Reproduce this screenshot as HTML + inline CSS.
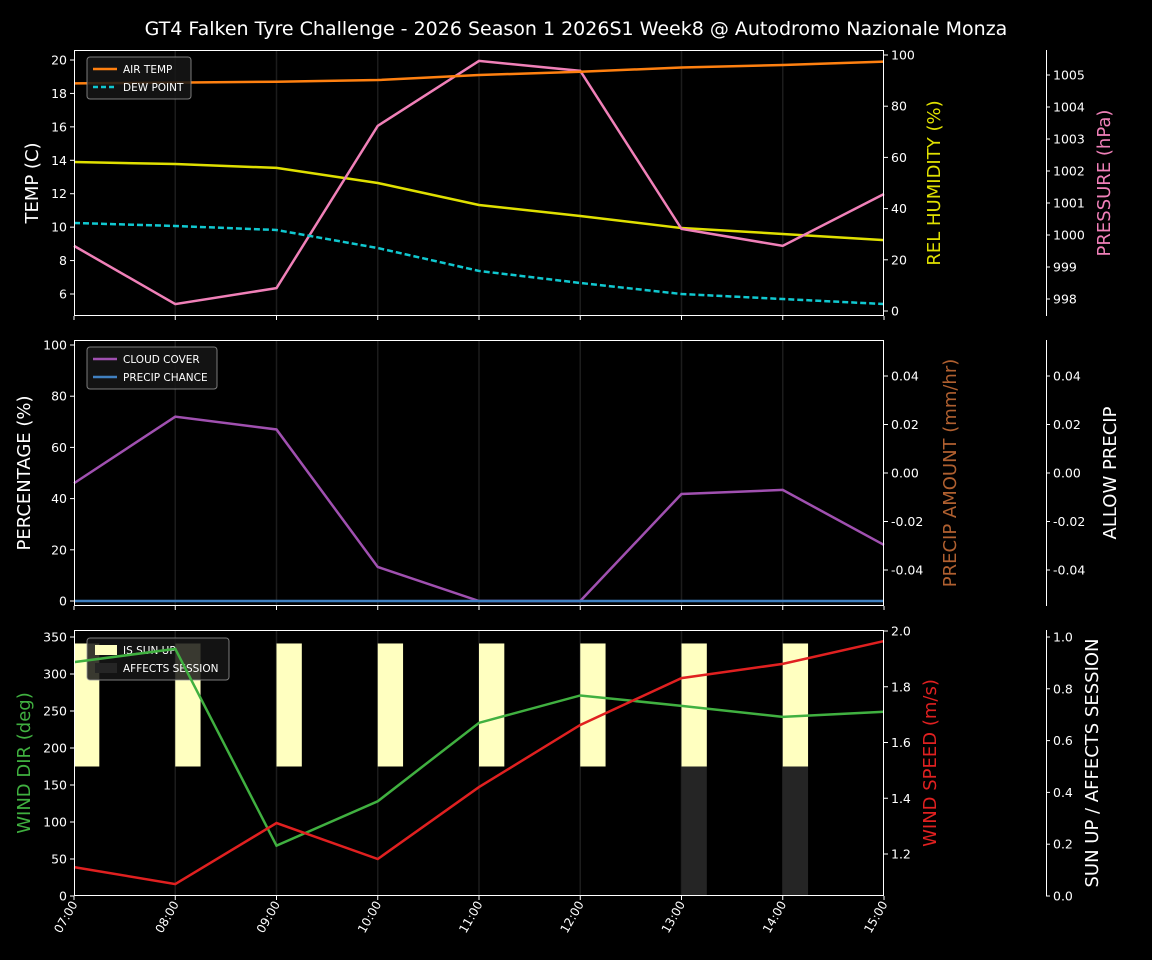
<!DOCTYPE html>
<html><head><meta charset="utf-8"><style>
body{margin:0;background:#000;}
svg{display:block;font-family:"DejaVu Sans","Liberation Sans",sans-serif;}
</style></head><body>
<svg id="c" width="1152" height="960"></svg>
<script>
const hours=["07:00","08:00","09:00","10:00","11:00","12:00","13:00","14:00","15:00"];
const airTemp=[18.6,18.65,18.7,18.8,19.1,19.3,19.55,19.7,19.9];
const dewPoint=[10.25,10.07,9.83,8.75,7.38,6.66,6.0,5.7,5.4];
const humidity=[58.2,57.4,55.9,50,41.4,37.1,32.4,30.1,27.7];
const pressure=[999.66,997.84,998.34,1003.41,1005.44,1005.13,1000.19,999.66,1001.28];
const cloudCover=[46,72,67,13.3,0,0,41.8,43.4,21.9];
const precipChance=[0,0,0,0,0,0,0,0,0];
const windDir=[316,334,68,128,234,271,257,242,249];
const windSpeed=[1.153,1.092,1.311,1.182,1.44,1.663,1.831,1.882,1.964];
const sunUp=[1,1,1,1,1,1,1,1];
const affects=[0,0,0,0,0,0,1,1];
const tempTicks=[6,8,10,12,14,16,18,20];
const humTicks=[0,20,40,60,80,100];
const presTicks=[998,999,1000,1001,1002,1003,1004,1005];
const pctTicks=[0,20,40,60,80,100];
const precTicks=[-0.04,-0.02,0.00,0.02,0.04];
const dirTicks=[0,50,100,150,200,250,300,350];
const spdTicks=[1.2,1.4,1.6,1.8,2.0];
const sunTicks=[0,0.2,0.4,0.6,0.8,1.0];

const svg=document.getElementById('c');
const NS='http://www.w3.org/2000/svg';
function el(tag,attrs,parent){const e=document.createElementNS(NS,tag);for(const k in attrs)e.setAttribute(k,attrs[k]);(parent||svg).appendChild(e);return e;}
function txt(s,attrs){const e=el('text',Object.assign({fill:'#fff','font-size':13},attrs));e.textContent=s;return e;}
const X0=74,X1=884;
const xs=i=>X0+i*(X1-X0)/8;
function lin(d0,d1,p0,p1){return v=>p0+(v-d0)*(p1-p0)/(d1-d0);}

const t=txt('GT4 Falken Tyre Challenge - 2026 Season 1 2026S1 Week8 @ Autodromo Nazionale Monza',{x:576,y:35,'text-anchor':'middle','font-size':19});


const panels=[{y0:50,y1:316},{y0:340,y1:606},{y0:630,y1:896}];
panels.forEach((p,pi)=>{
  el('rect',{x:X0,y:p.y0,width:X1-X0,height:p.y1-p.y0,fill:'#000'});
  for(let i=1;i<8;i++) el('line',{x1:xs(i),x2:xs(i),y1:p.y0,y2:p.y1,stroke:'#1c1c1c','stroke-width':1.5});
  for(let i=0;i<9;i++) el('line',{x1:xs(i),x2:xs(i),y1:p.y1,y2:p.y1+4,stroke:'#fff'});
});
function frame(pi){const p=panels[pi];const g=el('rect',{x:X0+0.5,y:p.y0+0.5,width:X1-X0-1,height:p.y1-p.y0-1,fill:'none',stroke:'#fff','stroke-width':1});
  }
function axis(x,ticks,sc,side,fmt,name){
  const g=el('g',{});
  
  ticks.forEach(v=>{const y=sc(v);
    el('line',{x1:x,x2:x+(side<0?-4:4),y1:y,y2:y,stroke:'#fff'},g);
    const tt=document.createElementNS(NS,'text');tt.setAttribute('x',side<0?x-7:x+7);tt.setAttribute('y',y+4.5);tt.setAttribute('fill','#fff');tt.setAttribute('font-size',12.5);tt.setAttribute('text-anchor',side<0?'end':'start');tt.textContent=fmt(v);g.appendChild(tt);});
}
function vline(x,y0,y1){el('line',{x1:x+0.5,x2:x+0.5,y1:y0,y2:y1,stroke:'#fff'});}
function ylabel(s,x,y,color,name){const e=txt(s,{x:x,y:y,'text-anchor':'middle','font-size':18,fill:color,transform:`rotate(-90 ${x} ${y})`});}
function line(vals,xsf,sc,color,name,dash){const pts=vals.map((v,i)=>xsf(i)+','+sc(v)).join(' ');const e=el('polyline',{points:pts,fill:'none',stroke:color,'stroke-width':2.5});if(dash)e.setAttribute('stroke-dasharray',dash);}

function legend(x,y,w,items,name){
  const g=el('g',{});
  el('rect',{x:x,y:y,width:w,height:items.length*18+6,rx:3,fill:'#161616','fill-opacity':0.85,stroke:'#999','stroke-opacity':0.8},g);
  items.forEach((it,i)=>{const yy=y+12+i*18;
    if(it.box) el('rect',{x:x+8,y:yy-5,width:22,height:10,fill:it.color},g);
    else{const l=el('line',{x1:x+6,x2:x+30,y1:yy,y2:yy,stroke:it.color,'stroke-width':2.5},g);if(it.dash)l.setAttribute('stroke-dasharray',it.dash);}
    const tt=document.createElementNS(NS,'text');tt.setAttribute('x',x+36);tt.setAttribute('y',yy+4);tt.setAttribute('fill','#fff');tt.setAttribute('font-size',10.5);tt.textContent=it.label;g.appendChild(tt);});
}

// Panel 1
const sT=lin(20,6,60,294),sH=lin(100,0,55,311),sP=lin(1005,998,75,299);
axis(X0,tempTicks,sT,-1,v=>v,'temp-axis');
axis(X1,humTicks,sH,1,v=>v,'humidity-axis');
vline(1046,50,316);axis(1046,presTicks,sP,1,v=>v,'pressure-axis');
ylabel('TEMP (C)',38,183,'#fff','temp-axis-title');
ylabel('REL HUMIDITY (%)',940,183,'#e0e000','humidity-axis-title');
ylabel('PRESSURE (hPa)',1110,183,'#f080b8','pressure-axis-title');
line(humidity,xs,sH,'#e0e000','humidity-line');
line(pressure,xs,sP,'#f080b8','pressure-line');
line(airTemp,xs,sT,'#ff8010','air-temp-line');
line(dewPoint,xs,sT,'#10c8d0','dew-point-line','6,3');
legend(87,57,104,[{label:'AIR TEMP',color:'#ff8010'},{label:'DEW POINT',color:'#10c8d0',dash:'5,3'}],'legend-temp');
frame(0);

// Panel 2
const sC=lin(0,100,601,345),sR=lin(-0.04,0.04,570,376);
axis(X0,pctTicks,sC,-1,v=>v,'percentage-axis');
axis(X1,precTicks,sR,1,v=>v.toFixed(2),'precip-amount-axis');
vline(1046,340,606);axis(1046,precTicks,sR,1,v=>v.toFixed(2),'allow-precip-axis');
ylabel('PERCENTAGE (%)',30,473,'#fff','percentage-axis-title');
ylabel('PRECIP AMOUNT (mm/hr)',956,473,'#b06030','precip-amount-axis-title');
ylabel('ALLOW PRECIP',1116,473,'#fff','allow-precip-axis-title');
line(cloudCover,xs,sC,'#a050b0','cloud-cover-line');
line(precipChance,xs,sC,'#4080c0','precip-chance-line');
legend(87,347,130,[{label:'CLOUD COVER',color:'#a050b0'},{label:'PRECIP CHANCE',color:'#4080c0'}],'legend-cloud');
frame(1);

// Panel 3
const sD=lin(0,350,896,637),sS=lin(1.2,2.0,854,631),sU=lin(0,1,896,637);
const bw=(X1-X0)/8*0.25;
sunUp.forEach((v,i)=>{if(v){const r=el('rect',{x:xs(i),y:sU(0.975),width:bw,height:sU(0.5)-sU(0.975),fill:'#ffffc0'});}});
affects.forEach((v,i)=>{if(v){const r=el('rect',{x:xs(i),y:sU(0.5*v),width:bw,height:sU(0)-sU(0.5*v),fill:'#252525'});}});
axis(X0,dirTicks,sD,-1,v=>v,'wind-dir-axis');
axis(X1,spdTicks,sS,1,v=>v.toFixed(1),'wind-speed-axis');
vline(1046,630,896);axis(1046,sunTicks,sU,1,v=>v.toFixed(1),'sun-axis');
ylabel('WIND DIR (deg)',30,763,'#40b040','wind-dir-axis-title');
ylabel('WIND SPEED (m/s)',936,763,'#e02020','wind-speed-axis-title');
ylabel('SUN UP / AFFECTS SESSION',1098,763,'#fff','sun-axis-title');
legend(87,638,142,[{label:'IS SUN UP',color:'#ffffc0',box:1},{label:'AFFECTS SESSION',color:'#252525',box:1}],'legend-sun');
line(windDir,xs,sD,'#40b040','wind-dir-line');
line(windSpeed,xs,sS,'#e02020','wind-speed-line');
frame(2);

hours.forEach((h,i)=>{const x=xs(i)+4,y=904;const e=txt(h,{x:x,y:y,'text-anchor':'end','font-size':12,transform:`rotate(-60 ${x} ${y})`});});
</script>
</body></html>
